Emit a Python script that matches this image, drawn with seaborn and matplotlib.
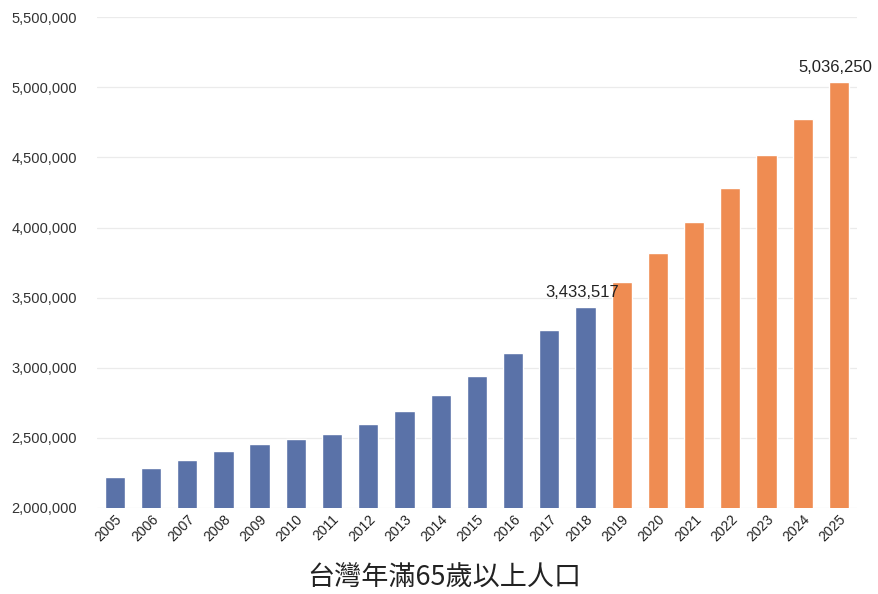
import numpy as np
import pandas as pd
import seaborn as sns
import matplotlib.pyplot as plt
from matplotlib.ticker import FuncFormatter

# 台灣年滿65歲以上人口 (2019 之後為推估值)
years = [str(y) for y in range(2005, 2026)]
population = [2216804, 2287029, 2343092, 2402220, 2457648, 2487893, 2528249,
              2600152, 2694406, 2808690, 2938579, 3106105, 3268013, 3433517,
              3614000, 3820000, 4040000, 4285000, 4520000, 4775000, 5036250]
kind = ['actual'] * 14 + ['projected'] * 7
labelled_years = ['2018', '2025']

df = pd.DataFrame({'year': years, 'population': population, 'kind': kind})

sns.set_style('white')
plt.rcParams['font.family'] = ['Liberation Sans', 'DejaVu Sans']

fig = plt.figure(figsize=(8.79, 5.94), dpi=100)
ax = fig.add_axes([0.110, 0.145, 0.865, 0.826])

palette = {'actual': '#5a72a8', 'projected': '#ef8c52'}
sns.barplot(data=df, x='year', y='population', hue='kind', palette=palette,
            dodge=False, width=0.56, saturation=1, legend=False, ax=ax,
            zorder=3)

ax.set_ylim(2000000, 5500000)
ax.set_yticks(np.arange(2000000, 5500001, 500000))
ax.yaxis.set_major_formatter(FuncFormatter(lambda v, p: f'{int(v):,}'))
ax.grid(axis='y', color='#ebebeb', linewidth=0.9, zorder=0)
ax.set_axisbelow(True)
for s in ax.spines.values():
    s.set_visible(False)

ax.tick_params(axis='y', labelsize=10.5, colors='#333333', length=0, pad=14)
ax.tick_params(axis='x', labelsize=10, colors='#222222', length=0, pad=3)
for lbl in ax.get_xticklabels():
    lbl.set_rotation(45)
    lbl.set_ha('right')
    lbl.set_rotation_mode('anchor')
ax.set_xlabel('')
ax.set_ylabel('')
ax.set_xlim(-0.5, len(years) - 0.5)

# 數值標籤
for i, (y, v) in enumerate(zip(years, population)):
    if y in labelled_years:
        ax.text(i - 0.1, v + 50000, f'{v:,}', ha='center', va='bottom',
                fontsize=12, color='#222222', zorder=5)

fig.text(0.505, 0.004, '台灣年滿65歲以上人口', ha='center', va='bottom',
         fontsize=19.5, color='#222222',
         family=['Noto Sans CJK TC', 'DejaVu Sans'])

fig.savefig('out.png', dpi=100, facecolor='white')
